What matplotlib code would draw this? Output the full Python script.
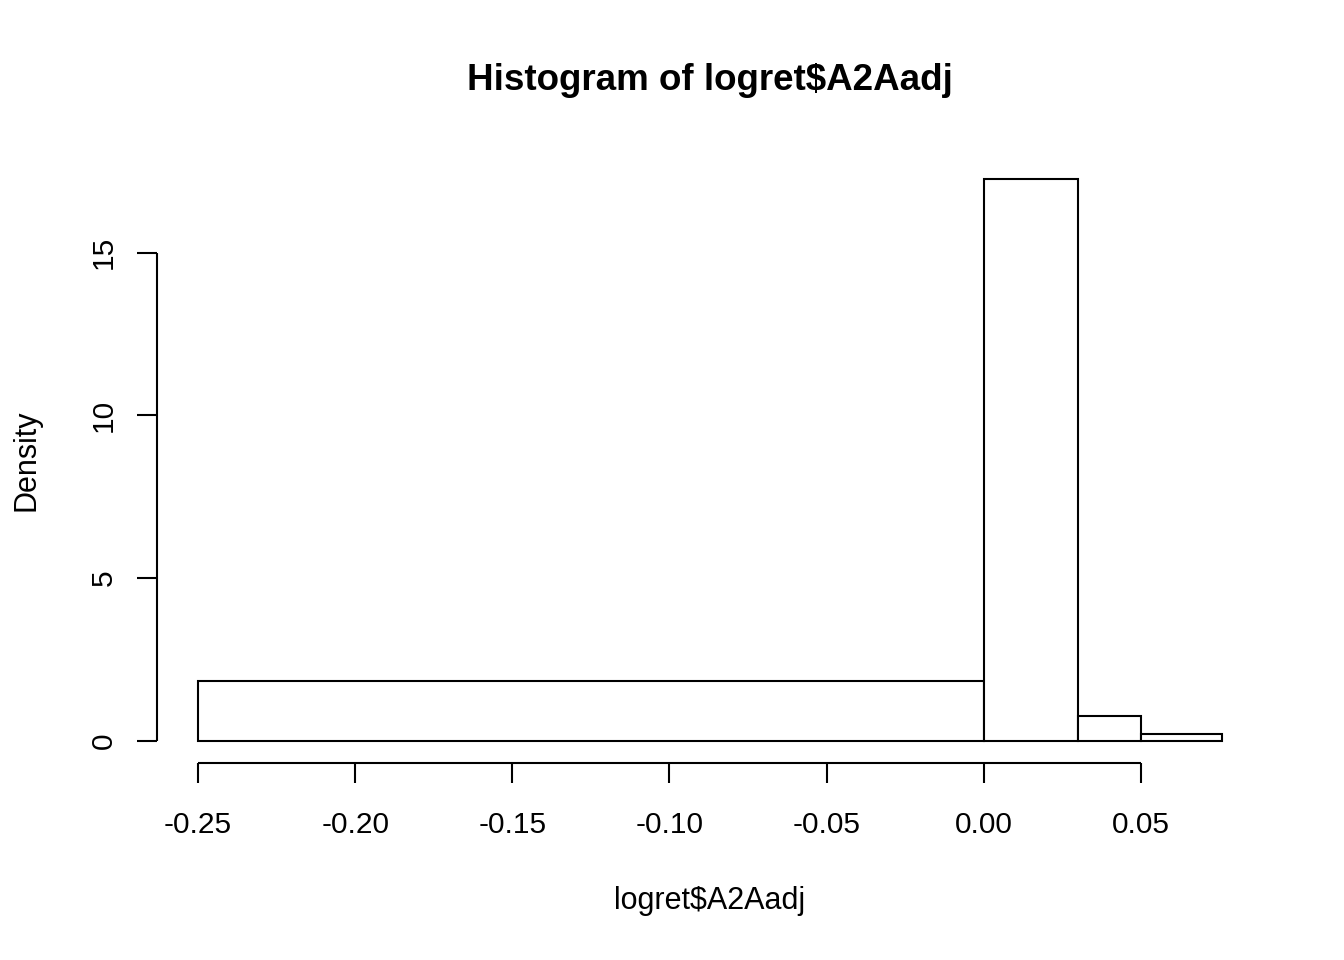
import matplotlib
matplotlib.use("Agg")
import matplotlib.pyplot as plt
import numpy as np

plt.rcParams['font.family'] = ['Liberation Sans', 'DejaVu Sans']

breaks = [-0.25, 0.0, 0.03, 0.05, 0.0758]
density = [1.83, 17.25, 0.77, 0.215]
xticks = [-0.25, -0.20, -0.15, -0.10, -0.05, 0.00, 0.05]
xticklabels = ["-0.25", "-0.20", "-0.15", "-0.10", "-0.05", "0.00", "0.05"]
yticks = [0, 5, 10, 15]
yticklabels = ["0", "5", "10", "15"]

fig = plt.figure(figsize=(13.44, 9.6), dpi=100)
ax = fig.add_axes([157/1344, 1-763/960, (1263-157)/1344, (763-157)/960])

lefts = np.array(breaks[:-1])
widths = np.diff(breaks)
ax.bar(lefts, density, width=widths, align='edge', facecolor='white',
       edgecolor='black', linewidth=1.5)

xr = breaks[-1] - breaks[0]
ax.set_xlim(breaks[0] - 0.04*xr, breaks[-1] + 0.04*xr)
ymax = max(density)
ax.set_ylim(-0.04*ymax, ymax*1.04)

for s in ax.spines.values():
    s.set_visible(False)

ax.set_xticks(xticks)
ax.set_xticklabels(xticklabels)
ax.set_yticks(yticks)
ax.set_yticklabels(yticklabels, rotation=90, va='center')
ax.tick_params(axis='both', length=14.4, width=1.5, labelsize=21.5, direction='out')
ax.tick_params(axis='x', pad=20)
ax.tick_params(axis='y', pad=14)

# axis lines R-style
ylo = ax.get_ylim()[0]
xlo = ax.get_xlim()[0]
ax.plot([xticks[0], xticks[-1]], [ylo, ylo], color='black', lw=1.5, clip_on=False,
        solid_capstyle='butt')
ax.plot([xlo, xlo], [yticks[0], yticks[-1]], color='black', lw=1.5, clip_on=False,
        solid_capstyle='butt')

fig.text(710/1344, 1-81/960, "Histogram of logret$A2Aadj", ha='center', va='center',
         fontsize=26.5, fontweight='bold')
fig.text(710/1344, 1-901/960, "logret$A2Aadj", ha='center', va='center', fontsize=22)
fig.text(26/1344, 1-460/960, "Density", ha='center', va='center', fontsize=22, rotation=90)

fig.savefig("out.png", dpi=100)
